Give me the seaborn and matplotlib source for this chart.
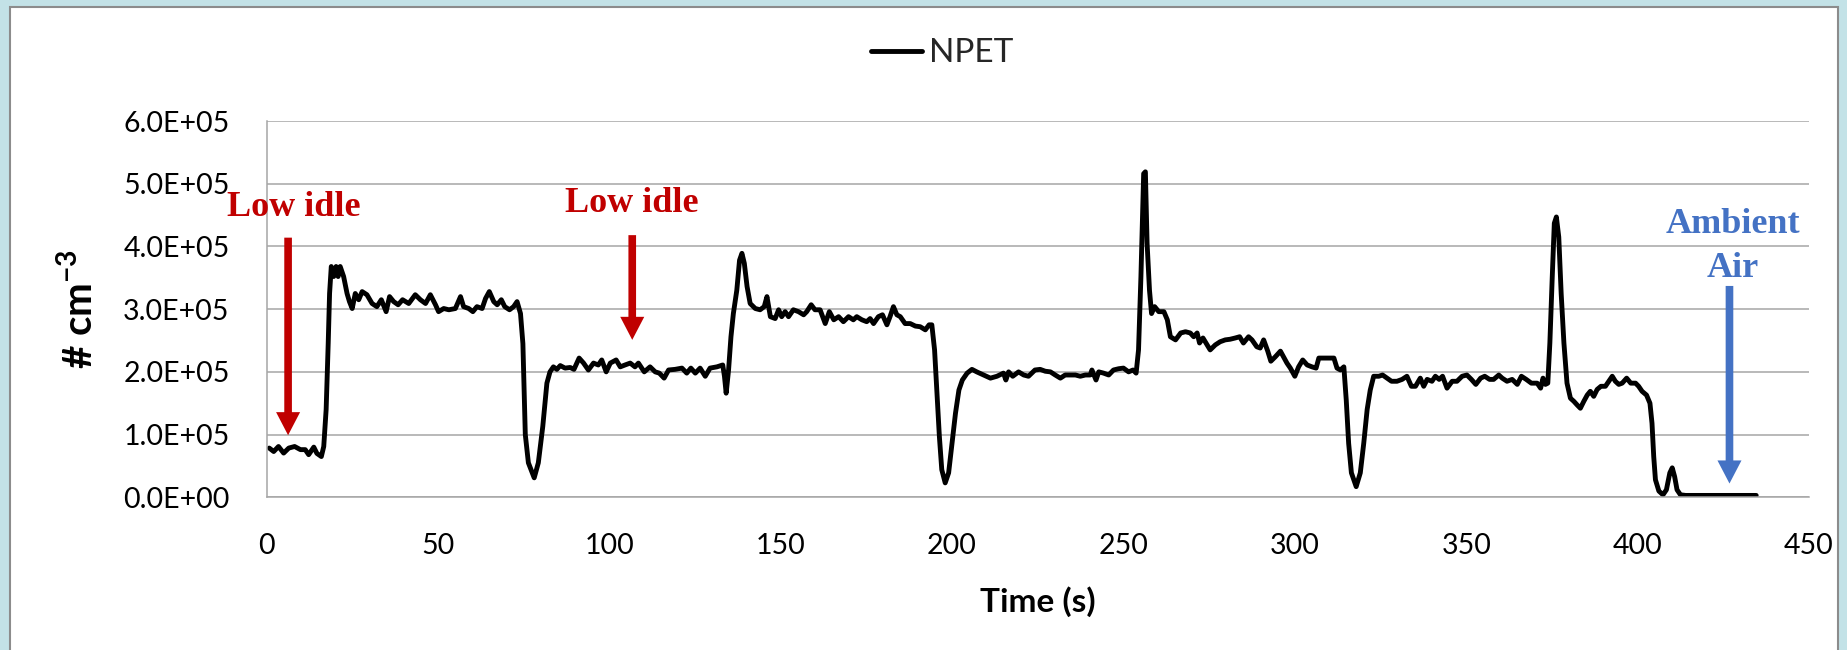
import numpy as np
import matplotlib
matplotlib.use("Agg")
import matplotlib.pyplot as plt
from matplotlib.patches import Rectangle
from matplotlib.ticker import FuncFormatter
import seaborn as sns

# ---- data: NPET particle number concentration over the test cycle ----
time_s = [
    0.8, 2.1, 3.5, 5.0, 6.5, 8.2, 9.9, 11.3, 12.3, 13.8, 14.7, 16.0, 16.7, 17.4, 18.0, 18.4,
    18.9, 19.6, 20.3, 20.9, 21.5, 22.5, 23.5, 24.2, 25.0, 25.9, 26.9, 27.9, 29.3, 30.8, 32.2,
    33.5, 34.9, 35.9, 37.1, 38.4, 39.7, 41.5, 43.4, 44.9, 46.4, 47.8, 49.3, 50.2, 51.7, 53.2,
    55.1, 56.6, 57.5, 59.0, 60.2, 61.4, 62.9, 63.9, 65.0, 66.3, 67.3, 68.5, 69.5, 70.9, 72.1,
    73.1, 74.1, 74.8, 75.5, 76.4, 78.1, 79.3, 80.6, 81.8, 82.7, 83.7, 84.7, 85.7, 87.1, 88.6,
    89.7, 91.2, 92.5, 93.9, 95.4, 96.8, 97.8, 99.1, 100.3, 102.0, 103.2, 104.6, 106.1, 107.5,
    108.5, 110.2, 111.9, 113.4, 114.6, 116.0, 117.3, 119.2, 121.2, 122.6, 123.8, 125.1, 126.5,
    128.0, 129.4, 131.4, 133.1, 133.6, 134.1, 134.8, 135.5, 136.2, 137.2, 138.0, 138.7, 139.4,
    140.2, 141.1, 142.6, 144.0, 145.2, 146.0, 147.0, 148.4, 149.4, 150.3, 151.3, 152.3, 153.7,
    155.2, 156.7, 157.6, 158.9, 160.0, 161.5, 163.0, 164.2, 165.5, 166.9, 168.3, 169.8, 171.2,
    172.2, 173.7, 175.1, 176.1, 177.1, 178.5, 179.7, 181.0, 181.9, 182.9, 183.9, 184.9, 186.3,
    187.8, 189.3, 190.7, 192.2, 193.3, 194.1, 194.9, 195.6, 196.3, 197.0, 198.0, 199.0, 200.0,
    201.0, 202.0, 203.0, 204.4, 205.8, 207.2, 209.2, 211.2, 213.1, 215.0, 215.7, 216.5, 217.7,
    219.4, 220.9, 222.3, 224.2, 225.7, 227.2, 228.7, 230.1, 231.6, 233.0, 234.5, 236.0, 237.4,
    238.9, 240.3, 240.8, 242.0, 242.8, 244.2, 245.7, 247.1, 248.6, 250.0, 251.5, 252.8, 253.7,
    254.4, 255.1, 255.9, 256.4, 256.9, 257.6, 258.2, 259.1, 260.3, 261.8, 262.8, 263.7, 265.2,
    266.7, 268.1, 269.5, 270.5, 271.5, 272.2, 273.2, 274.4, 275.3, 276.8, 278.2, 279.7, 281.1,
    282.6, 283.9, 285.0, 286.5, 287.5, 288.9, 289.9, 290.9, 292.1, 293.0, 294.3, 295.8, 296.7,
    297.7, 298.7, 300.0, 301.1, 302.3, 303.6, 305.0, 306.2, 307.0, 308.4, 309.9, 311.4, 312.3,
    313.3, 314.3, 315.0, 315.7, 316.5, 317.9, 319.1, 320.1, 321.1, 322.0, 323.0, 324.5, 325.6,
    326.9, 328.2, 329.8, 331.3, 332.7, 334.0, 335.2, 336.6, 337.6, 338.6, 340.0, 341.0, 342.1,
    343.1, 344.4, 345.9, 347.3, 348.8, 350.2, 351.5, 352.8, 354.2, 355.4, 356.8, 358.0, 359.5,
    360.5, 361.9, 363.4, 364.9, 366.1, 367.5, 369.0, 370.7, 371.7, 372.4, 373.1, 373.8, 374.4,
    375.1, 375.7, 376.3, 377.0, 377.7, 378.5, 379.4, 380.4, 381.4, 382.4, 383.3, 384.3, 385.3,
    386.2, 387.2, 388.2, 389.3, 390.6, 391.6, 392.6, 393.5, 394.5, 395.5, 396.8, 398.0, 399.4,
    400.3, 401.3, 402.6, 403.6, 404.2, 404.7, 405.2, 406.2, 407.4, 408.4, 409.4, 410.1, 410.8,
    411.5, 412.5, 414.0, 420.4, 426.3, 434.6,
]

# concentration in units of 1e5 particles per cm^3
npet_e5 = [
    0.785, 0.73, 0.81, 0.705, 0.785, 0.81, 0.76, 0.76, 0.68, 0.80, 0.70, 0.65, 0.81, 1.40, 2.45, 3.25,
    3.68, 3.52, 3.68, 3.52, 3.68, 3.52, 3.25, 3.12, 3.01, 3.25, 3.15, 3.28, 3.23, 3.09, 3.04,
    3.15, 2.96, 3.20, 3.12, 3.07, 3.15, 3.09, 3.23, 3.15, 3.09, 3.23, 3.07, 2.96, 3.01, 2.99,
    3.01, 3.20, 3.04, 3.01, 2.96, 3.04, 3.01, 3.17, 3.28, 3.12, 3.07, 3.15, 3.04, 2.99, 3.04,
    3.12, 2.93, 2.45, 1.00, 0.55, 0.31, 0.55, 1.13, 1.82, 2.00, 2.08, 2.04, 2.10, 2.06, 2.07,
    2.04, 2.22, 2.14, 2.03, 2.14, 2.11, 2.19, 2.00, 2.14, 2.19, 2.08, 2.11, 2.14, 2.08,
    2.14, 2.00, 2.08, 2.00, 1.98, 1.90, 2.03, 2.04, 2.06, 1.98, 2.06, 1.98, 2.06,
    1.93, 2.06, 2.08, 2.11, 1.93, 1.66, 2.03, 2.56, 2.93, 3.30, 3.78, 3.89, 3.73,
    3.36, 3.09, 3.01, 2.99, 3.04, 3.20, 2.88, 2.85, 2.99, 2.88, 2.96, 2.88, 2.99,
    2.96, 2.91, 2.96, 3.07, 2.99, 2.99, 2.77, 2.96, 2.83, 2.88, 2.80, 2.88, 2.83,
    2.88, 2.83, 2.80, 2.85, 2.77, 2.88, 2.91, 2.75, 2.88, 3.04, 2.91, 2.88, 2.77,
    2.77, 2.73, 2.72, 2.67, 2.75, 2.75, 2.35, 1.66, 0.97, 0.44, 0.23, 0.39, 0.86,
    1.34, 1.71, 1.87, 1.98, 2.04, 2.00, 1.95, 1.90, 1.93, 1.98, 1.87, 2.00, 1.93,
    2.00, 1.95, 1.93, 2.03, 2.04, 2.01, 2.00, 1.95, 1.90, 1.95, 1.95, 1.95, 1.93,
    1.95, 1.95, 2.03, 1.87, 2.00, 1.98, 1.95, 2.03, 2.05, 2.06, 2.00, 2.03, 1.98,
    2.35, 3.52, 5.16, 5.19, 4.05, 3.30, 2.93, 3.04, 2.96, 2.96, 2.83, 2.56, 2.51,
    2.62, 2.64, 2.62, 2.56, 2.62, 2.46, 2.54, 2.43, 2.35, 2.43, 2.48, 2.51, 2.52,
    2.54, 2.56, 2.46, 2.56, 2.51, 2.40, 2.38, 2.51, 2.33, 2.17, 2.24, 2.33, 2.24,
    2.14, 2.06, 1.93, 2.08, 2.19, 2.11, 2.08, 2.06, 2.22, 2.22, 2.22, 2.22, 2.06,
    2.03, 2.08, 1.55, 0.86, 0.39, 0.17, 0.39, 0.86, 1.40, 1.71, 1.93, 1.93, 1.95,
    1.90, 1.85, 1.85, 1.88, 1.93, 1.77, 1.77, 1.90, 1.77, 1.88, 1.85, 1.93, 1.88,
    1.93, 1.74, 1.85, 1.85, 1.93, 1.95, 1.88, 1.80, 1.90, 1.93, 1.88, 1.88, 1.95,
    1.90, 1.85, 1.88, 1.80, 1.93, 1.88, 1.82, 1.82, 1.74, 1.90, 1.80, 1.82, 2.46,
    3.52, 4.37, 4.47, 4.15, 3.25, 2.46, 1.82, 1.58, 1.53, 1.47, 1.42, 1.53, 1.63,
    1.69, 1.61, 1.72, 1.77, 1.77, 1.85, 1.93, 1.85, 1.80, 1.82, 1.90, 1.82, 1.82,
    1.77, 1.69, 1.63, 1.50, 1.18, 0.65, 0.28, 0.10, 0.04, 0.12, 0.39, 0.47, 0.33,
    0.12, 0.04, 0.03, 0.03, 0.03, 0.03,
]

series_label = "NPET"
x_ticks = [0, 50, 100, 150, 200, 250, 300, 350, 400, 450]
y_ticks = [0, 1e5, 2e5, 3e5, 4e5, 5e5, 6e5]

npet = np.asarray(npet_e5) * 1e5

# ---- styling ----
sns.set_theme(style="white")
plt.rcParams["font.family"] = ["Lato", "DejaVu Sans"]
plt.rcParams["mathtext.fontset"] = "custom"
plt.rcParams["mathtext.rm"] = "Lato"
plt.rcParams["mathtext.bf"] = "Lato:bold"

W, H = 1847, 650
fig = plt.figure(figsize=(W / 100, H / 100), dpi=100, facecolor="#C3E2E7")

# white chart area with a thin grey frame
fig.patches.append(Rectangle((10 / W, -0.05), (1838 - 10) / W, 1.05 - 7 / H,
                             transform=fig.transFigure, facecolor="white",
                             edgecolor="#8C8C8C", linewidth=1.5, zorder=-1))

left, right, top, bottom = 266.5 / W, 1809 / W, 1 - 121 / H, 1 - 497.3 / H
ax = fig.add_axes([left, bottom, right - left, top - bottom])
ax.set_facecolor("white")

sns.lineplot(x=time_s, y=npet, ax=ax, color="black", linewidth=3.5,
             label=series_label, sort=False, estimator=None)
for ln in ax.lines:
    ln.set_solid_joinstyle("round")
    ln.set_solid_capstyle("round")

grid_c = "#A6A6A6"
ax.set_xlim(0, 450)
ax.set_ylim(0, 6e5)
ax.set_xticks(x_ticks)
ax.set_yticks(y_ticks)
ax.yaxis.set_major_formatter(FuncFormatter(lambda v, _: f"{v:.1E}"))
ax.yaxis.grid(True, color=grid_c, linewidth=1.1)
ax.xaxis.grid(False)
for side in ("top", "right"):
    ax.spines[side].set_visible(False)
for side in ("left", "bottom"):
    ax.spines[side].set_color(grid_c)
    ax.spines[side].set_linewidth(1.1)
ax.tick_params(axis="both", direction="out", length=8.6, width=1.1, color=grid_c,
               labelsize=20.5, labelcolor="black")
ax.tick_params(axis="y", pad=18)
ax.tick_params(axis="x", pad=17)

ax.set_xlabel("Time (s)", fontsize=24, fontweight="bold", color="black")
ax.xaxis.label.set_va("center")
ax.xaxis.set_label_coords(0.5, -0.277)
ax.set_ylabel(r"# cm$^{\mathbf{-3}}$", fontsize=29, fontweight="bold", color="black")
ax.yaxis.label.set_va("center")
ax.yaxis.set_label_coords(-0.121, 0.5)

# legend centred above the plot
handles, labels = ax.get_legend_handles_labels()
ax.get_legend().remove()
fig.legend(handles, labels, loc="center", bbox_to_anchor=(0.51, 0.918),
           frameon=False, fontsize=24, handlelength=1.55, handletextpad=0.2)

# annotations
red = "#C00000"
blue = "#4472C4"
arrow_style = "simple,head_length=16.6,head_width=17.3,tail_width=5.5"
txt_kw = dict(fontfamily="Liberation Serif", fontweight="bold", fontsize=26,
              ha="center", va="baseline")

ax.text(7.9, 4.49e5, "Low idle", color=red, **txt_kw)
ax.annotate("", xy=(6.3, 0.99e5), xytext=(6.3, 4.14e5),
            arrowprops=dict(arrowstyle=arrow_style, mutation_scale=1, color=red,
                            lw=0, shrinkA=0, shrinkB=0))

ax.text(106.5, 4.555e5, "Low idle", color=red, **txt_kw)
ax.annotate("", xy=(106.7, 2.51e5), xytext=(106.7, 4.18e5),
            arrowprops=dict(arrowstyle=arrow_style, mutation_scale=1, color=red,
                            lw=0, shrinkA=0, shrinkB=0))

ax.text(427.7, 4.21e5, "Ambient", color=blue, **txt_kw)
ax.text(427.7, 3.52e5, "Air", color=blue, **txt_kw)
ax.annotate("", xy=(426.8, 0.22e5), xytext=(426.8, 3.37e5),
            arrowprops=dict(arrowstyle=arrow_style, mutation_scale=1, color=blue,
                            lw=0, shrinkA=0, shrinkB=0))

fig.savefig("out.png", dpi=100, facecolor=fig.get_facecolor())
